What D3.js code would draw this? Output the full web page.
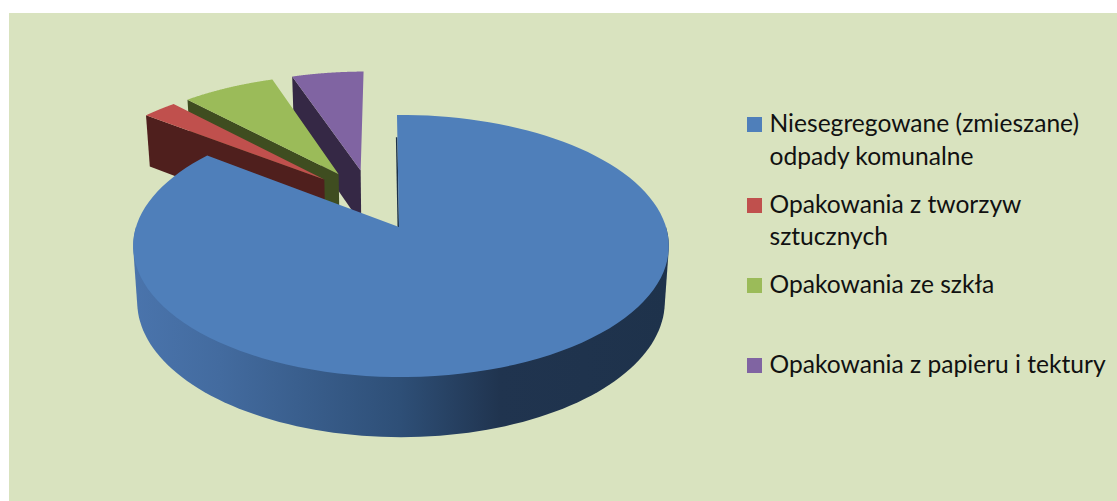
<!DOCTYPE html>
<html><head><meta charset="utf-8">
<script src="https://cdn.jsdelivr.net/npm/d3@7"></script>
<style>html,body{margin:0;padding:0;background:#fff}svg{display:block}text{font-family:Lato,sans-serif}</style>
</head><body><svg id="c" width="1117" height="501"></svg>
<script>
const categories=["Niesegregowane (zmieszane) odpady komunalne","Opakowania z tworzyw sztucznych","Opakowania ze szkła","Opakowania z papieru i tektury"];
const legendLines=[["Niesegregowane (zmieszane)","odpady komunalne"],["Opakowania z tworzyw","sztucznych"],["Opakowania ze szkła"],["Opakowania z papieru i tektury"]];
const values=[85.5,2.5,6.75,5.25];
const topColors=["#4f7fba","#c0504d","#9bbb59","#8064a2"];
const wallColors=["#1c3049","#4f1f1d","#3f4d20","#352845"];
const gradStops=[[0,"#4a74ac"],[0.162,"#436b9f"],[0.498,"#2e4f77"],[0.685,"#20344f"],[1,"#1e324b"]];

const svg=d3.select("#c");
const W=1117,H=501;
svg.append("rect").attr("x",9).attr("y",13).attr("width",W-9).attr("height",H-13).attr("fill","#d9e3bf");

// projection parameters: circle in unit coords -> screen via a perspective map
const cx=401,cy=227,R=265,Rp=128.3,k=0.145,e=0.25,D=55,sx=0.985,sy=1.034;
const blueOrigin=[-0.0075,0];
const rot=-0.0087,blueLead=0.0087;
const proj=(x,y,bottom)=>{const w=1-k*y;const s1=bottom?sx:1,s2=bottom?sy:1;
  return [cx+s1*R*x/w, cy+(bottom?D:0)+s2*Rp*y/w];};

// slices run clockwise from 12 o'clock, starting with the large one
const pie=d3.pie().sort(null).value(d=>d).startAngle(rot).endAngle(2*Math.PI+rot);
const arcs=pie(values);
const m0=(arcs[0].startAngle+arcs[0].endAngle)/2;
const C=[blueOrigin[0]-e*Math.sin(m0),blueOrigin[1]+e*Math.cos(m0)];
const line=d3.line();
const slices=arcs.map((a,i)=>{const m=(a.startAngle+a.endAngle)/2;
  return {i,a,ox:C[0]+e*Math.sin(m),oy:C[1]-e*Math.cos(m),shift:i===0?0.0075:0,lead:i===0?blueLead:0};});
const rim=(s,t)=>[s.ox+s.shift+Math.sin(t),s.oy-Math.cos(t)];
const rimPts=(s,t0,t1,bottom)=>d3.range(0,121).map(j=>{const t=t0+(t1-t0)*j/120;const p=rim(s,t);return proj(p[0],p[1],bottom);});

const defs=svg.append("defs");
const g=defs.append("linearGradient").attr("id","sideGrad").attr("gradientUnits","userSpaceOnUse").attr("x1",133).attr("x2",669).attr("y1",0).attr("y2",0);
gradStops.forEach(s=>g.append("stop").attr("offset",s[0]).attr("stop-color",s[1]));
defs.append("clipPath").attr("id","sideClip").append("rect").attr("x",0).attr("y",cy).attr("width",W).attr("height",H-cy);

// draw back to front: purple, green, red, blue
[3,2,1,0].forEach(i=>{
  const s=slices[i],a=s.a;
  const group=svg.append("g");
  const t0s=a.startAngle-s.lead;
  const c=rim(s,t0s);
  const apex=proj(s.ox,s.oy,false),corner=proj(c[0],c[1],false);
  if(i>0){
    const wall=[corner,apex,proj(s.ox,s.oy,true),proj(c[0],c[1],true)];
    group.append("path").attr("d",line(wall)+"Z").attr("fill",wallColors[i]);
  } else {
    // outer wall along the front of the rim
    const t0=Math.PI/2-0.35,t1=3*Math.PI/2+0.35;
    const hull=d3.polygonHull(rimPts(s,t0,t1,false).concat(rimPts(s,t0,t1,true)));
    group.append("path").attr("d",line(hull)+"Z").attr("fill","url(#sideGrad)").attr("clip-path","url(#sideClip)");
    // thin sliver of the cut face beside the upper straight edge
    const mid=d3.interpolateArray(corner,apex)(0.2);
    group.append("path").attr("d",line([mid,apex,[apex[0]-1.5,apex[1]],[mid[0]-1.5,mid[1]]])+"Z").attr("fill",wallColors[0]);
  }
  const pts=[apex].concat(rimPts(s,t0s,a.endAngle,false));
  group.append("path").attr("d",line(pts)+"Z").attr("fill",topColors[i]);
});

// legend
const yKeys=[117,198,278,358];
const baselines=[[132,165],[213,245],[293],[373]];
const leg=svg.append("g");
categories.forEach((c,i)=>{
  leg.append("rect").attr("x",747).attr("y",yKeys[i]).attr("width",15).attr("height",15).attr("fill",topColors[i]);
  legendLines[i].forEach((t,j)=>{
    leg.append("text").attr("x",769.5).attr("y",baselines[i][j]).attr("font-size",24.6).attr("fill","#111").text(t);
  });
});
</script></body></html>
